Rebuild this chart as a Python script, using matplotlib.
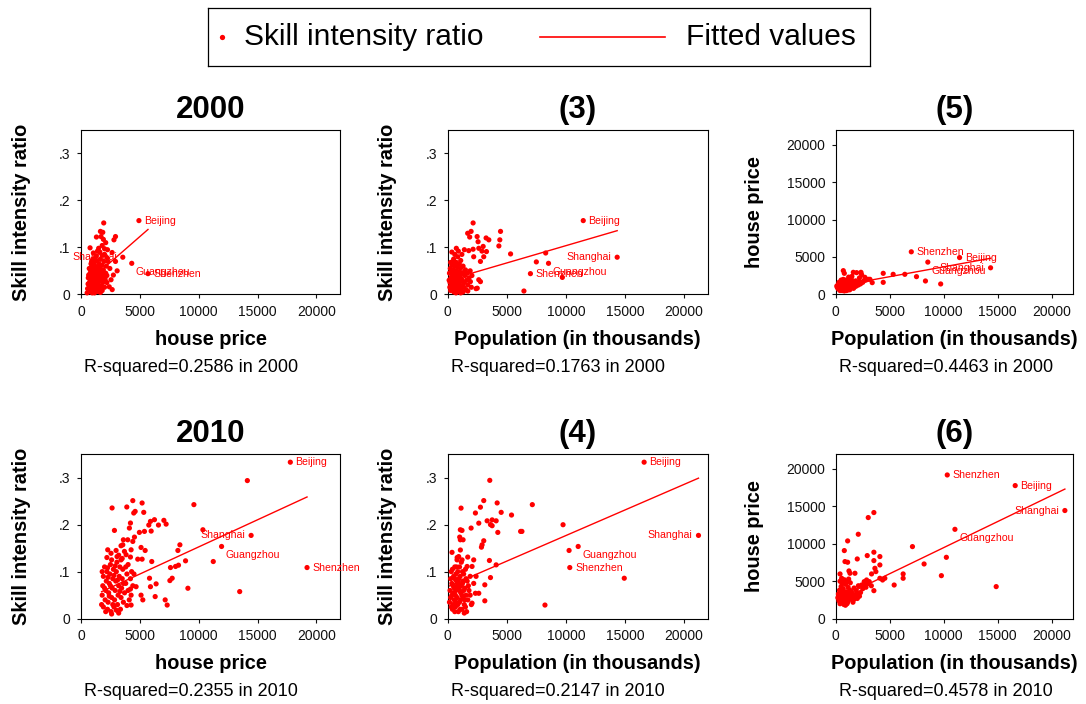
import numpy as np
import matplotlib
matplotlib.use("Agg")
import matplotlib.pyplot as plt

plt.rcParams['font.family'] = ['Liberation Sans', 'DejaVu Sans']

W, H = 1086, 704
RED = '#ff0000'

# labelled cities (same in every panel)
cities = ['Beijing', 'Shanghai', 'Guangzhou', 'Shenzhen']
label_pos = [3, 9, 4, 3]   # stata clock positions
pop_2000 = [11470, 14340, 8530, 7000]
price_2000 = [4920, 3550, 4310, 5690]
skill_2000 = [0.157, 0.079, 0.066, 0.044]
pop_2010 = [16620, 21220, 11040, 10330]
price_2010 = [17780, 14450, 11940, 19200]
skill_2010 = [0.3326, 0.177, 0.1535, 0.1087]

# other cities, (x, y)
price_skill_2000 = [
    (1930, .152), (1650, .134), (1850, .132), (1310, .122), (1700, .123), (1900, .117), (2930, .123),
    (2800, .116), (2100, .110), (1800, .104), (1500, .098), (2000, .097), (2250, .095), (770, .099),
    (1600, .090), (2640, .089), (2000, .085), (1800, .083), (1300, .082), (2200, .078), (2930, .070),
    (3070, .050), (2750, .041), (2550, .031), (2650, .010), (2400, .016), (2200, .025), (2450, .055),
    (1050, .088), (1400, .092),
    (520, .003), (560, .012), (600, .022), (620, .035), (650, .041), (700, .006), (720, .017), (760, .027),
    (780, .045), (800, .052), (820, .010), (850, .031), (880, .038), (900, .020), (920, .060), (950, .048),
    (980, .013), (1000, .029), (1020, .040), (1050, .055), (1080, .066), (1100, .005), (1120, .020),
    (1150, .034), (1180, .045), (1200, .060), (1220, .014), (1250, .026), (1280, .038), (1300, .051),
    (1320, .071), (1350, .009), (1380, .030), (1400, .042), (1420, .058), (1450, .020), (1480, .036),
    (1500, .048), (1520, .065), (1550, .012), (1580, .028), (1600, .040), (1620, .055), (1650, .075),
    (1700, .018), (1720, .034), (1750, .046), (1780, .062), (1800, .008), (1850, .025), (1880, .040),
    (1900, .052), (1950, .070), (2000, .015), (2050, .032), (2100, .045), (2150, .060), (2200, .040),
    (2300, .070), (1000, .075), (900, .070), (700, .055), (1250, .080), (1450, .006), (1150, .003),
    (950, .003), (1650, .004), (1300, .017), (1100, .047), (850, .065),
]
pop_skill_2000 = [
    (2150, .152), (1690, .130), (1980, .134), (1860, .122), (2490, .123), (4470, .134), (4410, .116),
    (4330, .103), (3250, .120), (3480, .116), (2570, .112), (3000, .102), (1410, .095), (1780, .093),
    (2150, .096), (2630, .098), (3280, .091), (730, .098), (2200, .080), (2770, .070), (3050, .080),
    (5320, .086), (8290, .088), (7500, .069), (9700, .036), (6450, .007), (2630, .031), (2770, .027),
    (1920, .027), (2400, .012), (2500, .013), (2050, .040), (2900, .092), (1200, .085),
    (120, .030), (150, .045), (180, .015), (200, .025), (220, .055), (250, .008), (280, .035), (300, .048),
    (320, .020), (350, .062), (380, .012), (400, .040), (420, .028), (450, .052), (480, .070), (500, .018),
    (520, .005), (550, .033), (580, .045), (600, .060), (620, .022), (650, .010), (680, .038), (700, .050),
    (720, .068), (750, .015), (780, .028), (800, .042), (820, .058), (850, .080), (880, .006), (900, .020),
    (920, .035), (950, .048), (980, .065), (1000, .012), (1030, .026), (1050, .040), (1080, .055),
    (1100, .072), (1150, .008), (1180, .018), (1200, .032), (1250, .046), (1300, .060), (1350, .015),
    (1400, .025), (1450, .040), (1500, .052), (1550, .010), (1600, .030), (1650, .045), (1700, .020),
    (1800, .035), (1900, .050), (2000, .015), (350, .090), (600, .085), (900, .092), (500, .075),
    (1300, .005), (700, .003), (1700, .007), (250, .068), (1100, .003),
]
pop_price_2000 = [
    (6400, 2676), (5320, 2676), (4400, 2810), (4400, 1600), (7480, 2364), (8310, 1784), (9720, 1383),
    (3170, 2007), (3380, 1561), (705, 3167), (797, 2810), (1630, 2944), (1940, 2900), (2340, 2944),
    (2400, 2631), (2700, 2275), (3013, 2007), (2600, 1800), (2200, 2200), (1500, 2400), (1200, 2300),
    (150, 900), (200, 1200), (250, 700), (300, 1000), (350, 1400), (400, 800), (450, 1100), (500, 600),
    (550, 1300), (600, 900), (650, 1600), (700, 1000), (750, 700), (800, 1200), (850, 1500), (900, 800),
    (950, 1100), (1000, 1800), (1050, 900), (1100, 1300), (1150, 600), (1200, 1000), (1250, 1500),
    (1300, 1200), (1350, 800), (1400, 1700), (1450, 1100), (1500, 1400), (1550, 900), (1600, 1200),
    (1700, 1600), (1750, 1000), (1800, 1300), (1900, 1100), (2000, 1500), (2100, 1250), (2200, 1700),
    (2300, 1400), (2500, 1600), (2800, 1900), (300, 1600), (500, 1900), (700, 2000), (900, 1900),
    (600, 500), (1000, 500), (1300, 600), (800, 450), (400, 500), (1200, 2000), (100, 1100), (250, 1300),
    (450, 1500), (650, 1200), (850, 1000), (1050, 1600), (1250, 700), (1450, 2000), (1650, 800), (1850, 1800),
]
price_skill_2010 = [
    (14130, .2935), (9590, .2424), (4400, .2509), (5190, .2459), (2640, .2353), (3890, .2374),
    (4480, .2246), (4600, .228), (5330, .226), (4200, .2033), (4110, .1926), (5900, .2068), (6240, .2104),
    (7040, .209), (7230, .201), (6580, .199), (5760, .199), (2840, .1876), (4960, .1834), (5390, .1855),
    (5960, .1862), (3600, .1677), (3970, .1677), (4400, .1642), (4540, .1734), (3550, .157), (3400, .155),
    (5100, .1514), (5450, .145), (10355, .189), (11235, .1215), (8400, .157), (8230, .145), (8880, .123),
    (7600, .1087), (8030, .111), (8280, .1137), (7550, .081), (7745, .086), (9080, .0647), (13480, .0576),
    (2270, .1464), (2550, .139), (2980, .145), (3060, .132), (3400, .125), (3690, .143), (3830, .136),
    (4200, .131), (4820, .1265), (5190, .1265), (4255, .1464), (6010, .1215), (5820, .086), (6380, .074),
    (5900, .068), (6300, .047), (7150, .040), (7320, .029), (5250, .040), (5100, .050), (4680, .068),
    (4200, .063), (4255, .050), (4255, .029),
    (1750, .030), (1800, .050), (1850, .070), (1900, .090), (2000, .110), (2050, .040), (2100, .060),
    (2150, .080), (2200, .100), (2250, .020), (2300, .035), (2350, .055), (2400, .075), (2450, .095),
    (2500, .115), (2550, .015), (2600, .045), (2650, .065), (2700, .085), (2750, .105), (2800, .025),
    (2850, .040), (2900, .060), (2950, .080), (3000, .100), (3050, .120), (3100, .030), (3150, .050),
    (3200, .070), (3250, .090), (3300, .110), (3350, .020), (3400, .045), (3450, .065), (3500, .085),
    (3550, .105), (3600, .035), (3700, .055), (3800, .075), (3900, .095), (4000, .115), (4100, .040),
    (4200, .085), (4300, .100), (4500, .095), (2200, .130), (2600, .125), (3200, .135), (1900, .025),
    (2100, .015), (2400, .048), (2700, .030), (3000, .018), (3300, .058), (3600, .075), (3900, .028),
    (2300, .088), (2500, .070), (2800, .092), (3100, .082), (2000, .065), (2250, .108), (2900, .112),
    (3500, .128), (4400, .070), (3800, .110), (2600, .010), (3200, .012), (4000, .060), (1800, .100),
]
pop_skill_2010 = [
    (3560, .294), (1130, .235), (3050, .251), (2770, .237), (4185, .246), (4525, .226), (2345, .2246),
    (5400, .2203), (7160, .2424), (2630, .203), (3336, .208), (3760, .210), (4100, .208), (3620, .200),
    (3760, .1976), (1980, .1926), (1070, .189), (1210, .1876), (4240, .1834), (6170, .1855), (6280, .1855),
    (9760, .1997), (1015, .1734), (1070, .1677), (1300, .1677), (3050, .1656), (2910, .157), (2855, .152),
    (3530, .1237), (3620, .0874), (4100, .1144), (10270, .145), (8230, .029), (14940, .086),
    (365, .141), (1072, .146), (930, .132), (790, .125), (1214, .125), (1695, .131), (2200, .125),
    (2060, .111), (1640, .111), (3140, .072), (3140, .038), (2345, .054), (2630, .054), (2060, .033),
    (150, .035), (200, .060), (250, .085), (300, .100), (350, .050), (400, .020), (450, .070), (500, .090),
    (550, .040), (600, .110), (650, .025), (700, .060), (750, .080), (800, .045), (850, .100), (900, .015),
    (950, .065), (1000, .035), (1050, .090), (1100, .055), (1150, .120), (1200, .020), (1250, .075),
    (1300, .045), (1350, .095), (1400, .030), (1450, .065), (1500, .105), (1550, .050), (1600, .015),
    (1650, .080), (1700, .040), (1800, .060), (1900, .090), (2000, .030), (250, .045), (350, .075),
    (450, .030), (550, .065), (650, .050), (750, .110), (850, .030), (950, .085), (1050, .020),
    (1150, .070), (1250, .100), (1350, .060), (1450, .040), (1550, .085), (1750, .070), (300, .025),
    (500, .055), (700, .095), (900, .075), (1100, .040), (1300, .080), (600, .015), (800, .070),
    (1000, .110), (1200, .050), (400, .105), (700, .035), (1000, .060), (1400, .012), (1900, .050),
    (2200, .075), (2400, .090), (1500, .025), (800, .130), (600, .085),
]
pop_price_2010 = [
    (3535, 14180), (3013, 13510), (2090, 11280), (1105, 10390), (797, 9100), (7107, 9630), (860, 7630),
    (1105, 7540), (2920, 8430), (3535, 8880), (4090, 8300), (3535, 7760), (1997, 7980), (4090, 7180),
    (8184, 7310), (10246, 8200), (9785, 5750), (6245, 5980), (6245, 5400), (5414, 4500), (14860, 4286),
    (1228, 6380), (1320, 6070), (1782, 6070), (3630, 6735), (3720, 6290), (3320, 5980), (4090, 5400),
    (4340, 5170), (4550, 5400), (2860, 5170), (2640, 4950), (3105, 4950), (3535, 3746), (400, 5980),
    (550, 5400),
    (200, 2800), (250, 3300), (300, 2400), (350, 3800), (400, 2000), (450, 3000), (500, 4300), (550, 2600),
    (600, 3500), (650, 2200), (700, 4000), (750, 1900), (800, 3200), (850, 2700), (900, 4600), (950, 2300),
    (1000, 3600), (1050, 2000), (1100, 3100), (1150, 4200), (1200, 2500), (1250, 3400), (1300, 2900),
    (1350, 4800), (1400, 3700), (1500, 2600), (1600, 3300), (1700, 4100), (1800, 3000), (1900, 3800),
    (2000, 2700), (2100, 4400), (2300, 3500), (2500, 4000), (2700, 4600), (300, 3100), (500, 2200),
    (700, 2800), (900, 3400), (1100, 2200), (1300, 3800), (600, 4700), (400, 5000), (800, 5200),
    (1000, 4900), (1200, 5300), (700, 2400), (900, 1800), (1150, 2800), (1450, 3200), (1700, 2600),
    (2000, 3400), (2200, 3000), (2400, 4500), (2800, 4200), (3000, 4700), (3300, 4400), (450, 2600),
    (650, 3600), (1600, 2200),
]

# fitted line (intercept, slope)
fit_price_skill_2000 = (0.0135, 2.19e-5)
fit_pop_skill_2000 = (0.030, 7.36e-6)
fit_pop_price_2000 = (1043, 0.2635)
fit_price_skill_2010 = (0.0373, 1.153e-5)
fit_pop_skill_2010 = (0.068, 1.087e-5)
fit_pop_price_2010 = (2524, 0.697)

r2_notes = ['R-squared=0.2586 in 2000', 'R-squared=0.1763 in 2000', 'R-squared=0.4463 in 2000',
            'R-squared=0.2355 in 2010', 'R-squared=0.2147 in 2010', 'R-squared=0.4578 in 2010']
titles = ['2000', '(3)', '(5)', '2010', '(4)', '(6)']

x_ticks = [0, 5000, 10000, 15000, 20000]
skill_ticks = [0, .1, .2, .3]
skill_ticklabels = ['0', '.1', '.2', '.3']
price_ticks = [0, 5000, 10000, 15000, 20000]

panels = [
    (price_skill_2000, price_2000, skill_2000, fit_price_skill_2000, 'house price', 'Skill intensity ratio'),
    (pop_skill_2000, pop_2000, skill_2000, fit_pop_skill_2000, 'Population (in thousands)', 'Skill intensity ratio'),
    (pop_price_2000, pop_2000, price_2000, fit_pop_price_2000, 'Population (in thousands)', 'house price'),
    (price_skill_2010, price_2010, skill_2010, fit_price_skill_2010, 'house price', 'Skill intensity ratio'),
    (pop_skill_2010, pop_2010, skill_2010, fit_pop_skill_2010, 'Population (in thousands)', 'Skill intensity ratio'),
    (pop_price_2010, pop_2010, price_2010, fit_pop_price_2010, 'Population (in thousands)', 'house price'),
]

# layout in pixels
col_l = [81, 447.7, 835.7]
col_r = [340, 707.7, 1073.3]
row_t = [130, 454]
row_b = [294.3, 618.7]
ylab_x = [21.5, 387.5, 755]
title_base = [118, 442]
xlab_base = [345, 669]
note_base = [372, 696]

fig = plt.figure(figsize=(W / 100, H / 100), dpi=100)


def fx(px):
    return px / W


def fy(py):
    return 1 - py / H


offsets = {3: ((3.8, 0), 'left'), 9: ((-4.3, 0), 'right'), 4: ((3, -6.5), 'left')}

for i, (pts, cx, cy, fit, xlab, ylab) in enumerate(panels):
    r, c = divmod(i, 3)
    ax = fig.add_axes([fx(col_l[c]), fy(row_b[r]), fx(col_r[c] - col_l[c]),
                       (row_b[r] - row_t[r]) / H])
    pts = np.array(pts)
    xs = np.concatenate([pts[:, 0], cx])
    ys = np.concatenate([pts[:, 1], cy])
    ax.scatter(xs, ys, s=14, color=RED, edgecolors='none', zorder=3, clip_on=False)
    a, b = fit
    xl = np.array([xs.min(), xs.max()])
    ax.plot(xl, a + b * xl, color=RED, lw=1.0, zorder=2)
    for name, x0, y0, p in zip(cities, cx, cy, label_pos):
        off, ha = offsets[p]
        ax.annotate(name, (x0, y0), xytext=off, textcoords='offset points',
                    ha=ha, va='center', fontsize=7.6, color=RED, zorder=4)
    ax.set_xlim(0, 22000)
    ax.set_xticks(x_ticks)
    ax.set_xticklabels([str(t) for t in x_ticks])
    if c < 2:
        ax.set_ylim(0, 0.35)
        ax.set_yticks(skill_ticks)
        ax.set_yticklabels(skill_ticklabels)
    else:
        ax.set_ylim(0, 22000)
        ax.set_yticks(price_ticks)
        ax.set_yticklabels([str(t) for t in price_ticks])
    for sp in ax.spines.values():
        sp.set_linewidth(0.8)
        sp.set_color('black')
    ax.tick_params(direction='out', length=3, width=0.8, pad=4.5, labelsize=10,
                   colors='#111111', top=False, right=False)

    cxm = (col_l[c] + col_r[c]) / 2
    fig.text(fx(cxm), fy(title_base[r]), titles[i], ha='center', va='baseline',
             fontsize=22.5, fontweight='bold')
    fig.text(fx(cxm), fy(xlab_base[r]), xlab, ha='center', va='baseline',
             fontsize=14.4, fontweight='bold')
    fig.text(fx(ylab_x[c]), fy((row_t[r] + row_b[r]) / 2), ylab, ha='center', va='center',
             rotation=90, fontsize=14.4, fontweight='bold')
    fig.text(fx(col_l[c] + 3), fy(note_base[r]), r2_notes[i], ha='left', va='baseline',
             fontsize=13)

# legend box
lg = fig.add_axes([fx(208), fy(66), fx(870 - 208), (66 - 8) / H])
lg.set_xlim(208, 870)
lg.set_ylim(66, 8)
lg.set_xticks([])
lg.set_yticks([])
for sp in lg.spines.values():
    sp.set_linewidth(0.9)
lg.plot([222], [37], 'o', ms=3.8, color=RED, mec='none')
lg.text(244, 37, 'Skill intensity ratio', ha='left', va='center', fontsize=21.5)
lg.plot([540, 665], [37, 37], color=RED, lw=1.2)
lg.text(686, 37, 'Fitted values', ha='left', va='center', fontsize=21.5)

fig.savefig('out.png', dpi=100)
